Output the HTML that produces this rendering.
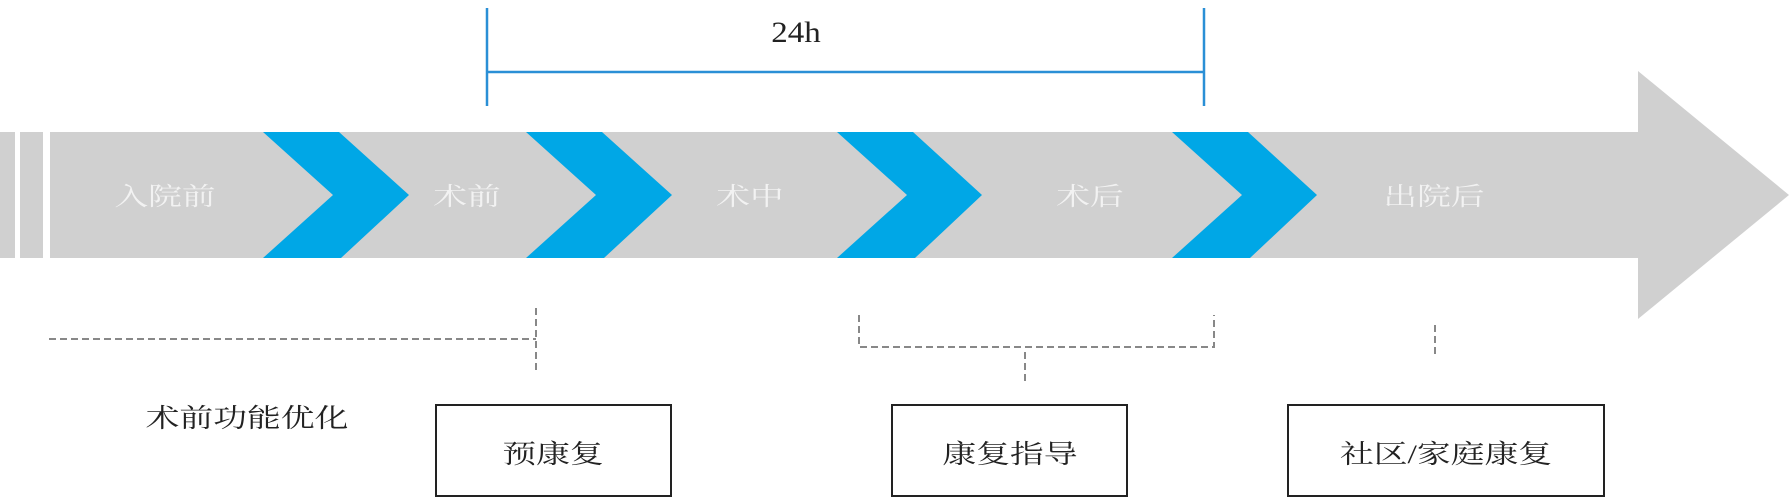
<!DOCTYPE html>
<html><head><meta charset="utf-8"><style>html,body{margin:0;padding:0;background:#fff}svg{display:block}</style></head>
<body>
<svg width="1789" height="500" viewBox="0 0 1789 500" xmlns="http://www.w3.org/2000/svg">
<g stroke="#2a8fd6" stroke-width="2.5" fill="none">
<line x1="487" y1="8" x2="487" y2="106"/>
<line x1="1204" y1="8" x2="1204" y2="106"/>
<line x1="487" y1="72" x2="1204" y2="72"/>
</g>
<text x="796" y="42" font-family="Liberation Serif, serif" font-size="30" text-anchor="middle" fill="#222" transform="translate(796 0) scale(1.1 1) translate(-796 0)">24h</text>
<rect x="0" y="132" width="15" height="126" fill="#d0d0d0"/>
<rect x="20" y="132" width="23" height="126" fill="#d0d0d0"/>
<polygon points="50,132 1638,132 1638,71 1789,195 1638,319 1638,258 50,258" fill="#d0d0d0"/>
<g fill="#00a7e6">
<polygon points="263,132 339,132 409,195 341,258 263,258 333,195"/>
<polygon points="526,132 602,132 672,195 604,258 526,258 596,195"/>
<polygon points="837,132 913,132 982,195 915,258 837,258 907,195"/>
<polygon points="1172,132 1248,132 1317,195 1250,258 1172,258 1242,195"/>
</g>
<g font-family="Liberation Serif, 'Noto Serif CJK SC', serif" font-size="25" fill="#f2f2f2" text-anchor="middle">
<text x="0" y="205" transform="translate(165 0) scale(1.35 1)">入院前</text>
<text x="0" y="205" transform="translate(467 0) scale(1.35 1)">术前</text>
<text x="0" y="205" transform="translate(750 0) scale(1.35 1)">术中</text>
<text x="0" y="205" transform="translate(1090 0) scale(1.35 1)">术后</text>
<text x="0" y="205" transform="translate(1434 0) scale(1.35 1)">出院后</text>
</g>
<g stroke="#888" stroke-width="2" fill="none" stroke-dasharray="7 4">
<line x1="49" y1="339" x2="536" y2="339"/>
<line x1="536" y1="308" x2="536" y2="370"/>
<polyline points="859,315 859,347 1214,347 1214,315"/>
<line x1="1025" y1="352" x2="1025" y2="383"/>
<line x1="1435" y1="325" x2="1435" y2="355"/>
</g>
<g font-family="Liberation Serif, 'Noto Serif CJK SC', serif" font-size="26" fill="#222" text-anchor="middle">
<text x="0" y="427" transform="translate(247 0) scale(1.3 1)">术前功能优化</text>
<text x="0" y="463" transform="translate(553 0) scale(1.3 1)">预康复</text>
<text x="0" y="463" transform="translate(1010 0) scale(1.3 1)">康复指导</text>
<text x="0" y="463" transform="translate(1446 0) scale(1.3 1)">社区/家庭康复</text>
</g>
<g stroke="#222" stroke-width="2" fill="none">
<rect x="436" y="405" width="235" height="91"/>
<rect x="892" y="405" width="235" height="91"/>
<rect x="1288" y="405" width="316" height="91"/>
</g>
</svg>
</body></html>
